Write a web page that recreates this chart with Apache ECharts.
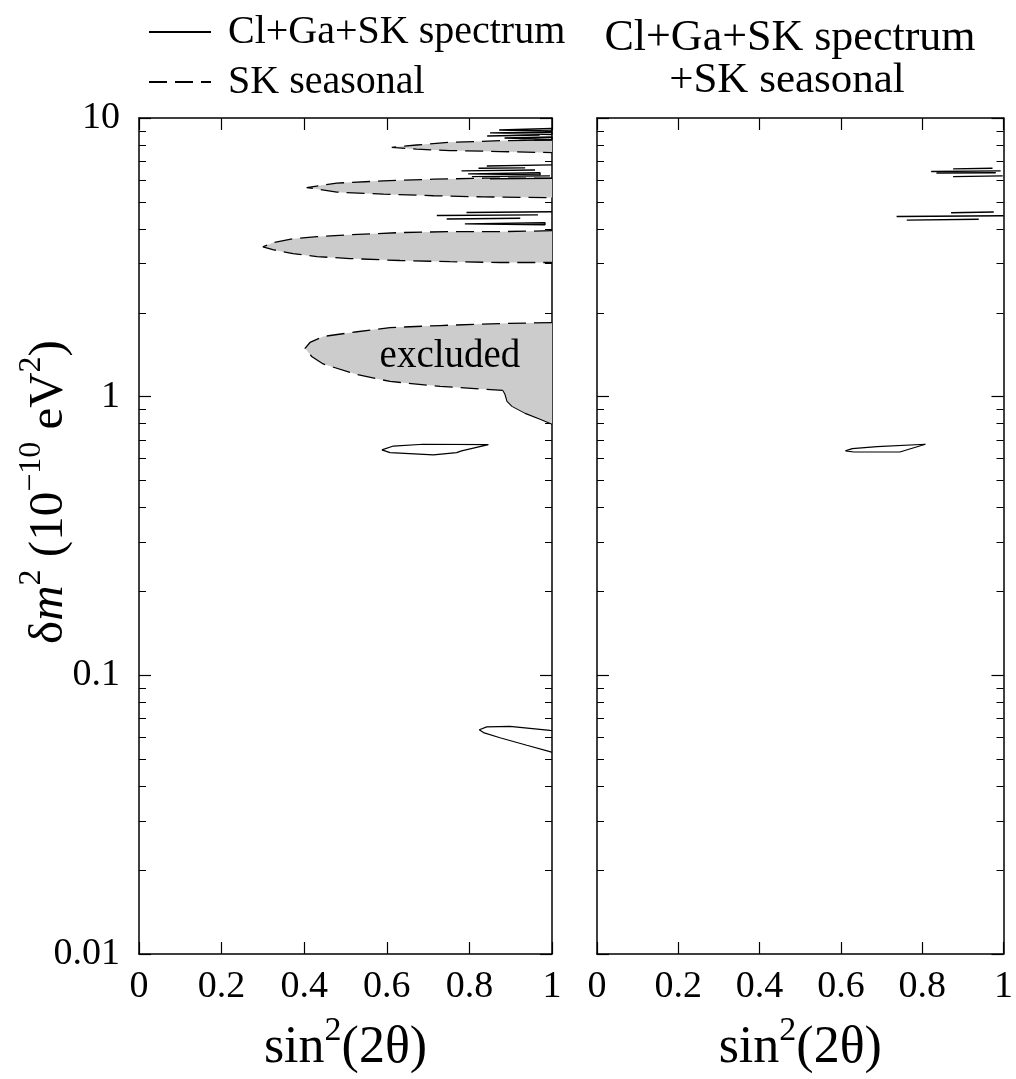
<!DOCTYPE html>
<html><head><meta charset="utf-8">
<script src="https://cdn.jsdelivr.net/npm/echarts@6/dist/echarts.min.js"></script>
<style>html,body{margin:0;padding:0;background:#fff}#c{width:1016px;height:1079px}</style>
</head><body><div id="c"></div>
<script>
const FONT = '"Liberation Serif","Times New Roman",serif';

// axis ranges / ticks
const xRange = [0, 1];
const xTickStep = 0.2;
const yRange = [0.01, 10];

// SK seasonal excluded regions (left panel): outline = top edge (right -> tip) then bottom edge
const excludedA_dashed = [[1,1.845],[0.874,1.83],[0.729,1.80],[0.608,1.77],[0.528,1.71],[0.446,1.644],[0.414,1.565],[0.402,1.49],
  [0.419,1.39],[0.446,1.31],[0.528,1.20],[0.608,1.134],[0.729,1.089],[0.881,1.053]];
const excludedA_solid = [[0.881,1.053],[0.886,1.02],[0.891,0.962],[0.903,0.923],[0.935,0.871],[0.971,0.829],[1,0.796]];
const excludedB = [[1,3.94],[0.874,3.91],[0.753,3.91],[0.632,3.88],[0.511,3.81],[0.431,3.75],[0.373,3.69],[0.324,3.57],[0.300,3.45],
  [0.324,3.37],[0.373,3.26],[0.431,3.18],[0.511,3.13],[0.632,3.08],[0.753,3.05],[0.874,3.03],[1,3.03]];
const excludedC = [[1,6.08],[0.834,6.08],[0.713,6.03],[0.592,5.95],[0.479,5.84],[0.406,5.63],
  [0.479,5.42],[0.592,5.33],[0.713,5.26],[0.834,5.21],[1,5.18]];
const excludedD = [[1,8.34],[0.874,8.29],[0.753,8.18],[0.672,8.00],[0.612,7.85],
  [0.672,7.73],[0.753,7.64],[0.874,7.58],[1,7.51]];

// Cl+Ga+SK spectrum allowed slivers: [tipX, tipY, rightX, rightYTop, rightYBottom]
const sliversLeft = [
  [0.872,9.06,1,9.17,8.98],[0.850,8.84,1,8.91,8.73],[0.843,8.62,0.97,8.69,8.55],[0.885,8.48,1,8.55,8.38],[0.92,8.31,1,8.34,8.24],
  [0.842,6.73,1,6.79,6.68],[0.822,6.60,0.935,6.62,6.54],[0.781,6.46,0.959,6.51,6.41],[0.797,6.30,0.971,6.36,6.25],[0.806,6.16,0.995,6.20,6.12],[0.850,6.05,1,6.07,6.02],
  [0.793,4.58,1,4.61,4.55],[0.721,4.47,0.966,4.49,4.44],[0.745,4.34,0.923,4.37,4.31],[0.789,4.17,0.983,4.21,4.14]
];
const sliversRight = [
  [0.876,6.57,0.973,6.60,6.54],[0.822,6.43,0.993,6.46,6.40],[0.835,6.35,0.981,6.36,6.30],[0.876,6.16,0.998,6.20,6.12],
  [0.871,4.57,0.976,4.60,4.53],[0.737,4.43,1,4.46,4.40],[0.762,4.30,0.939,4.33,4.28]
];
const contourLeftMid = [[0.588,0.644],[0.616,0.665],[0.688,0.675],[0.846,0.673],[0.781,0.639],[0.769,0.630],[0.713,0.618],[0.608,0.630],[0.588,0.644]];
const contourLeftLow = [[1,0.0634],[0.995,0.0635],[0.898,0.0656],[0.842,0.0653],[0.824,0.0638],[0.834,0.0623],[0.874,0.0597],[0.939,0.0561],[0.997,0.0531],[1,0.0529]];
const contourRightMid = [[0.611,0.639],[0.628,0.651],[0.689,0.662],[0.808,0.675],[0.745,0.633],[0.632,0.633],[0.611,0.639]];
const excludedLabelPos = [[0.753,1.39]];

const SPEC = 'Cl+Ga+SK spectrum';
const SEAS = 'SK seasonal';

const richX = {
  n:{fontFamily:FONT,fontSize:52,lineHeight:60,color:'#000',verticalAlign:'bottom'},
  s:{fontFamily:FONT,fontSize:34,lineHeight:34,color:'#000',verticalAlign:'top'}
};
const richY = {
  n:{fontFamily:FONT,fontSize:49,lineHeight:58,color:'#000',verticalAlign:'bottom'},
  i:{fontFamily:FONT,fontSize:49,lineHeight:58,color:'#000',fontStyle:'italic',verticalAlign:'bottom'},
  s:{fontFamily:FONT,fontSize:32,lineHeight:32,color:'#000',verticalAlign:'top'}
};
const xName = '{n|sin}{s|2}{n|(2θ)}';
const yName = '{n|δ}{i|m}{s|2}{n| (10}{s|−10}{n| eV}{s|2}{n|)}';

function xAx(grid, pos, labels){
  return {type:'value', gridIndex:grid, position:pos, min:xRange[0], max:xRange[1], interval:xTickStep,
    axisLine:{show:true,onZero:false,lineStyle:{color:'#000',width:1.5}},
    axisTick:{show:true,inside:true,length:12,lineStyle:{color:'#000',width:1.2}},
    axisLabel:{show:labels,margin:14,fontSize:38,fontFamily:FONT,color:'#000',formatter:v=>String(+(+v).toFixed(1))},
    splitLine:{show:false},
    name: labels ? xName : '', nameLocation:'middle', nameGap:60,
    nameTextStyle:{rich:richX}
  };
}
function yAx(grid, pos, labels){
  return {type:'log', logBase:10, gridIndex:grid, position:pos, min:yRange[0], max:yRange[1],
    axisLine:{show:true,onZero:false,lineStyle:{color:'#000',width:1.5}},
    axisTick:{show:true,inside:true,length:12,lineStyle:{color:'#000',width:1.2}},
    minorTick:{show:true,splitNumber:9,length:7,lineStyle:{color:'#000',width:1}},
    axisLabel:{show:labels,margin:19,fontSize:38,fontFamily:FONT,color:'#000',formatter:v=>String(+(+v).toPrecision(2))},
    splitLine:{show:false}, minorSplitLine:{show:false}
  };
}

function fillSeries(pts, xi, yi){
  return {type:'custom', xAxisIndex:xi, yAxisIndex:yi, z:1, silent:true, data:pts, encode:{x:0,y:1},
    renderItem:function(params, api){
      if(params.dataIndex!==0) return null;
      return {type:'polygon', shape:{points:pts.map(p=>api.coord(p))}, style:{fill:'#cccccc',stroke:null}};
    }};
}
function lineSeries(name, pts, xi, yi, dashed, w){
  return {type:'line', name:name, xAxisIndex:xi, yAxisIndex:yi, z:3, data:pts, symbol:'none', showSymbol:false, silent:true,
    itemStyle:{color:'#000'},
    lineStyle:{color:'#000', width:w||1.3, type: dashed ? [18,8] : 'solid'}};
}
function sliverPts(s){ return [[s[0],s[1]],[s[2],s[3]],[s[2],s[4]],[s[0],s[1]]]; }

const series = [];
// fills
series.push(fillSeries(excludedA_dashed.concat(excludedA_solid.slice(1)),0,0));
series.push(fillSeries(excludedB,0,0));
series.push(fillSeries(excludedC,0,0));
series.push(fillSeries(excludedD,0,0));
// spectrum (solid)
sliversLeft.forEach(s=>series.push(lineSeries(SPEC, sliverPts(s), 0, 0, false, 1.4)));
series.push(lineSeries(SPEC, contourLeftMid,0,0,false,1.2));
series.push(lineSeries(SPEC, contourLeftLow,0,0,false,1.2));
sliversRight.forEach(s=>series.push(lineSeries(SPEC, sliverPts(s), 2, 2, false, 1.4)));
series.push(lineSeries(SPEC, contourRightMid,2,2,false,1.2));
// seasonal dashed outlines
series.push(lineSeries(SEAS, excludedA_dashed,0,0,true,1.3));
series.push(lineSeries(SEAS, excludedB,0,0,true,1.3));
series.push(lineSeries(SEAS, excludedC,0,0,true,1.3));
series.push(lineSeries(SEAS, excludedD,0,0,true,1.3));
series.push(lineSeries('edge', excludedA_solid,0,0,false,1.1));
// "excluded" label
series.push({type:'custom', xAxisIndex:0, yAxisIndex:0, z:4, silent:true, data:excludedLabelPos, encode:{x:0,y:1},
  renderItem:function(params, api){
    const c = api.coord([api.value(0), api.value(1)]);
    return {type:'text', x:c[0], y:c[1], style:{text:'excluded', font:'39px '+FONT, fill:'#000', align:'center', verticalAlign:'middle'}};
  }});

const chart = echarts.init(document.getElementById('c'), null, {renderer:'canvas'});
chart.setOption({
  animation:false,
  backgroundColor:'#fff',
  grid:[{left:139, top:118, width:413, height:838},{left:597, top:118, width:411, height:838}],
  xAxis:[xAx(0,'bottom',true), xAx(0,'top',false), xAx(1,'bottom',true), xAx(1,'top',false)],
  yAxis:[yAx(0,'left',true), yAx(0,'right',false), yAx(1,'left',false), yAx(1,'right',false)],
  legend:{data:[SPEC,SEAS], orient:'vertical', left:148, top:10, padding:0, itemWidth:62, itemHeight:14, itemGap:6,
    selectedMode:false, itemStyle:{opacity:0},
    textStyle:{fontFamily:FONT, fontSize:40, lineHeight:44, color:'#000', padding:[0,0,0,12]}},
  graphic:[
    {type:'text', x:790, y:38, style:{text:'Cl+Ga+SK spectrum', font:'44px '+FONT, fill:'#000', align:'center', verticalAlign:'middle'}},
    {type:'text', x:787, y:81, style:{text:'+SK seasonal', font:'43px '+FONT, fill:'#000', align:'center', verticalAlign:'middle'}},
    {type:'text', x:45, y:492, rotation:Math.PI/2, style:{text:yName, rich:richY, align:'center', verticalAlign:'middle'}}
  ],
  series:series
});
</script></body></html>
